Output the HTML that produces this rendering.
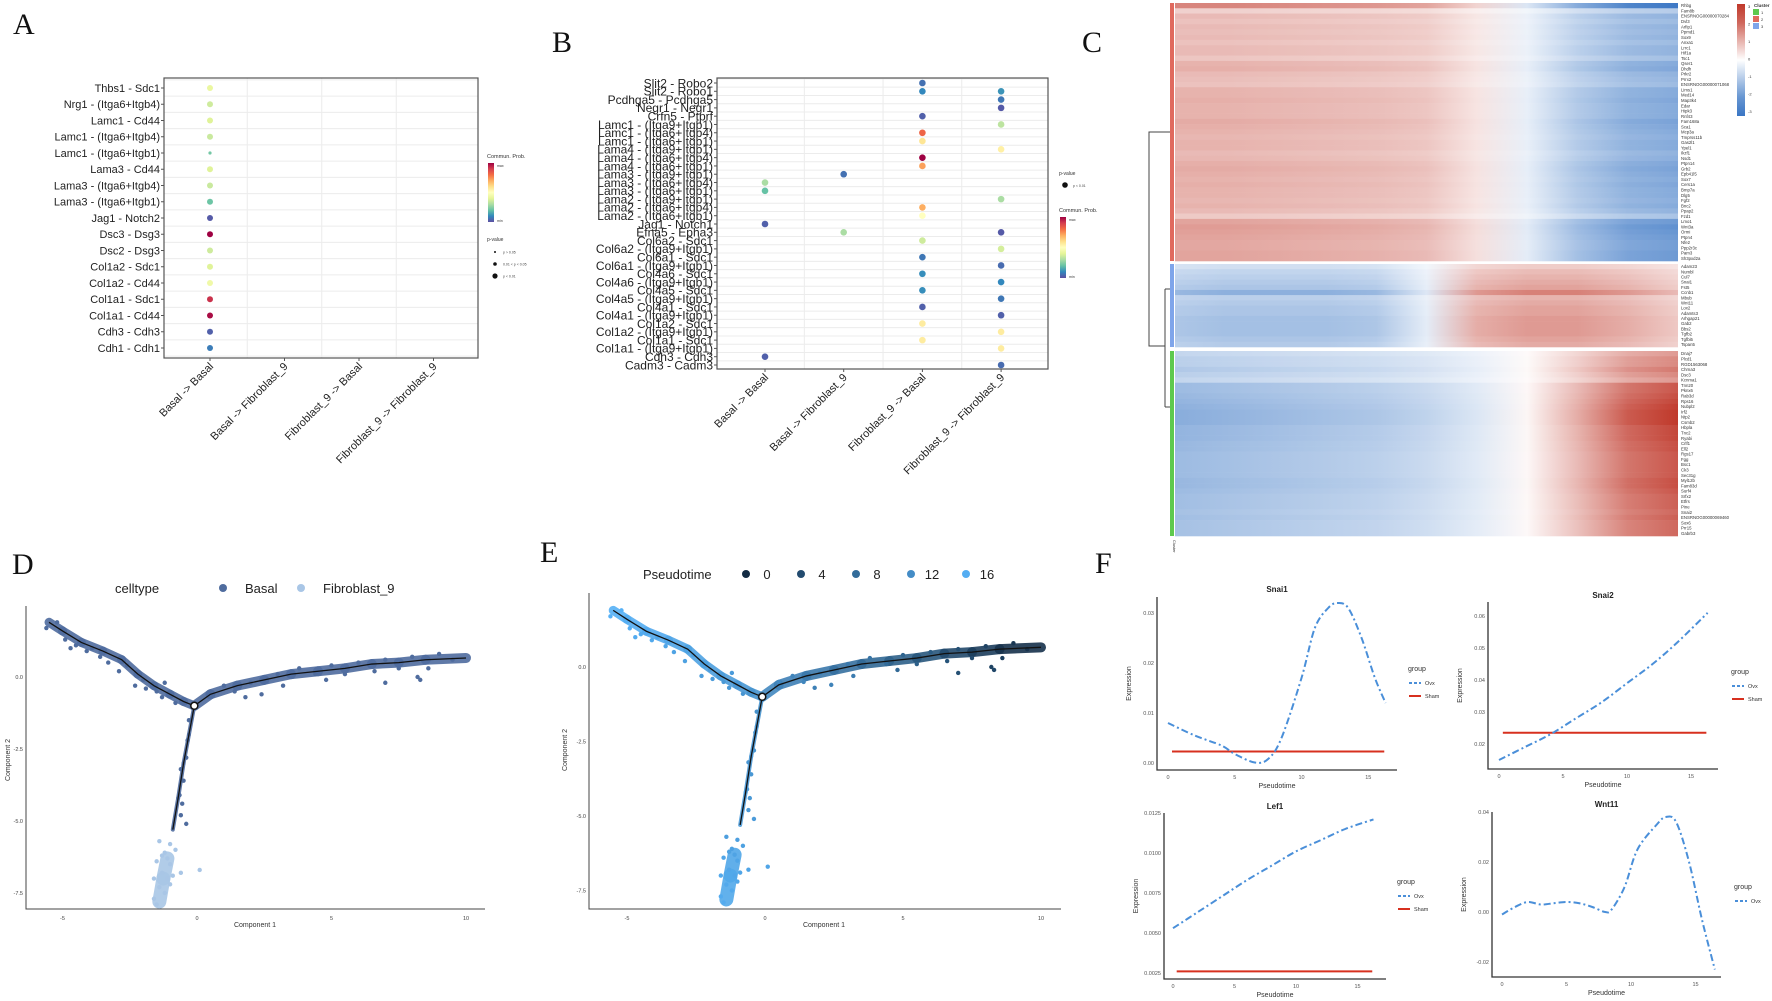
<!DOCTYPE html>
<html><head><meta charset="utf-8"><title>Figure</title>
<style>
html,body{margin:0;padding:0;background:#fff;}
svg{display:block;font-family:"Liberation Sans",sans-serif;}
.lbl{font-family:"Liberation Serif",serif;font-size:30px;fill:#111;}
</style></head>
<body>
<svg id="fig" width="1772" height="1001" viewBox="0 0 1772 1001" xmlns="http://www.w3.org/2000/svg">
<rect x="0" y="0" width="1772" height="1001" fill="#fff"/>
<text class="lbl" x="13" y="34">A</text>
<text class="lbl" x="552" y="52">B</text>
<text class="lbl" x="1082" y="52">C</text>
<text class="lbl" x="12" y="574">D</text>
<text class="lbl" x="540" y="562">E</text>
<text class="lbl" x="1095" y="573">F</text>
</svg>
<script>
const NS="http://www.w3.org/2000/svg";
const svg=document.getElementById('fig');
function el(tag,attrs,parent){const e=document.createElementNS(NS,tag);for(const k in attrs)e.setAttribute(k,attrs[k]);(parent||svg).appendChild(e);return e;}
function txt(s,attrs,parent){const t=el('text',attrs,parent);t.textContent=s;return t;}

/* ---------- Shared data: cell-cell communication ---------- */
const commCols=["Basal -> Basal","Basal -> Fibroblast_9","Fibroblast_9 -> Basal","Fibroblast_9 -> Fibroblast_9"];
const aPairs=["Thbs1  - Sdc1","Nrg1 - (Itga6+Itgb4)","Lamc1  - Cd44","Lamc1  - (Itga6+Itgb4)","Lamc1  - (Itga6+Itgb1)","Lama3  - Cd44","Lama3  - (Itga6+Itgb4)","Lama3  - (Itga6+Itgb1)","Jag1  - Notch2","Dsc3 - Dsg3","Dsc2 - Dsg3","Col1a2  - Sdc1","Col1a2  - Cd44","Col1a1  - Sdc1","Col1a1  - Cd44","Cdh3 - Cdh3","Cdh1  - Cdh1"];
const aCol=[0,0,0,0,0,0,0,0,0,0,0,0,0,0,0,0,0];
const aProb=[0.42,0.36,0.39,0.35,0.22,0.39,0.35,0.21,0.02,1.0,0.36,0.39,0.44,0.92,0.98,0.03,0.08];
const aSig=[2,2,2,2,1,2,2,2,2,2,2,2,2,2,2,2,2];

const bPairs=["Slit2 - Robo2","Slit2 - Robo1","Pcdhga5 - Pcdhga5","Negr1  - Negr1","Crfn5 - Ptprf","Lamc1  - (Itga9+Itgb1)","Lamc1  - (Itga6+Itgb4)","Lamc1  - (Itga6+Itgb1)","Lama4  - (Itga9+Itgb1)","Lama4  - (Itga6+Itgb4)","Lama4  - (Itga6+Itgb1)","Lama3  - (Itga9+Itgb1)","Lama3  - (Itga6+Itgb4)","Lama3  - (Itga6+Itgb1)","Lama2  - (Itga9+Itgb1)","Lama2  - (Itga6+Itgb4)","Lama2  - (Itga6+Itgb1)","Jag1  - Notch1","Efna5  - Epha3","Col6a2  - Sdc1","Col6a2  - (Itga9+Itgb1)","Col6a1  - Sdc1","Col6a1  - (Itga9+Itgb1)","Col4a6  - Sdc1","Col4a6  - (Itga9+Itgb1)","Col4a5  - Sdc1","Col4a5  - (Itga9+Itgb1)","Col4a1  - Sdc1","Col4a1  - (Itga9+Itgb1)","Col1a2  - Sdc1","Col1a2  - (Itga9+Itgb1)","Col1a1  - Sdc1","Col1a1  - (Itga9+Itgb1)","Cdh3 - Cdh3","Cadm3  - Cadm3"];
const bDotRow=[0,1,1,2,3,4,5,6,7,8,9,10,11,12,13,14,15,16,17,18,18,19,20,21,22,23,24,25,26,27,28,29,30,31,32,33,34];
const bDotCol=[2,2,3,3,3,2,3,2,2,3,2,2,1,0,0,3,2,2,0,1,3,2,3,2,3,2,3,2,3,2,3,2,3,2,3,0,3];
const bDotProb=[0.06,0.1,0.12,0.07,0.02,0.03,0.33,0.82,0.58,0.55,1.0,0.72,0.06,0.3,0.2,0.3,0.7,0.5,0.03,0.3,0.02,0.36,0.37,0.07,0.05,0.11,0.1,0.11,0.07,0.03,0.03,0.56,0.56,0.56,0.56,0.03,0.05];

const spectral=["#5e4fa2","#3288bd","#66c2a5","#abdda4","#e6f598","#ffffbf","#fee08b","#fdae61","#f46d43","#d53e4f","#9e0142"];
function hex2rgb(h){return [parseInt(h.substr(1,2),16),parseInt(h.substr(3,2),16),parseInt(h.substr(5,2),16)];}
function mix(a,b,t){const A=hex2rgb(a),B=hex2rgb(b);return 'rgb('+A.map((v,i)=>Math.round(v+(B[i]-v)*t)).join(',')+')';}
function specColor(v){v=Math.max(0,Math.min(1,v));const p=v*10,i=Math.min(9,Math.floor(p));return mix(spectral[i],spectral[i+1],p-i);}

function dotPlot(cfg){
  const g=el('g',{});
  
  
  const n=cfg.pairs.length;
  const rowY=i=>cfg.y0+(cfg.y1-cfg.y0)*i/(n-1);
  const colX=j=>cfg.x0+cfg.colStep*j;
  const step=(cfg.y1-cfg.y0)/(n-1);
  for(let i=0;i<=n;i++){const y=cfg.y0-step/2+i*step;
    const gl=el('line',{x1:cfg.bx0,x2:cfg.bx1,y1:y,y2:y,stroke:'#ececec','stroke-width':1},g);
    
    }
  for(let j=0;j<3;j++){const x=colX(j)+cfg.colStep/2;
    const gl=el('line',{x1:x,x2:x,y1:cfg.by0,y2:cfg.by1,stroke:'#ececec','stroke-width':1},g);
    
    }
  const box=el('rect',{x:cfg.bx0,y:cfg.by0,width:cfg.bx1-cfg.bx0,height:cfg.by1-cfg.by0,fill:'none',stroke:'#555','stroke-width':1.2},g);
  
  
  cfg.pairs.forEach((p,i)=>{
    const t=txt(p,{x:cfg.bx0-4,y:rowY(i)+cfg.fs*0.36,'text-anchor':'end','font-size':cfg.fs,fill:'#222'},g);
    
    
    const tk=el('line',{x1:cfg.bx0-3,x2:cfg.bx0,y1:rowY(i),y2:rowY(i),stroke:'#555'},g);
    
    
  });
  commCols.forEach((c,j)=>{
    const x=colX(j),y=cfg.by1+9;
    const t=txt(c,{x:x+4,y:y,'text-anchor':'end','font-size':cfg.xfs,fill:'#222',transform:'rotate(-45 '+(x+4)+' '+y+')'},g);
    
    
    const tk=el('line',{x1:x,x2:x,y1:cfg.by1,y2:cfg.by1+3,stroke:'#555'},g);
    
    
  });
  cfg.dotRow.forEach((r,k)=>{
    const c=el('circle',{cx:colX(cfg.dotCol[k]),cy:rowY(r),r:cfg.sizes?(cfg.sizes[k]===1?1.6:3):3.3,fill:specColor(cfg.prob[k])},g);
    
    
  });
  return g;
}
dotPlot({name:'panel-a-dotplot',pairs:aPairs,dotRow:aPairs.map((_,i)=>i),dotCol:aCol,prob:aProb,sizes:aSig,
  x0:210,colStep:74.5,y0:88,y1:348,bx0:164,bx1:478,by0:78,by1:358,fs:11,xfs:11});
dotPlot({name:'panel-b-dotplot',pairs:bPairs,dotRow:bDotRow,dotCol:bDotCol,prob:bDotProb,
  x0:765,colStep:78.7,y0:83,y1:365,bx0:717,bx1:1048,by0:78,by1:369,fs:12,xfs:11});

/* legends A & B */
function colorbar(x,y,h,name){
  const g=el('g',{});
  
  
  const id='cb'+name;
  const lg=el('linearGradient',{id:id,x1:0,y1:1,x2:0,y2:0},g);
  spectral.forEach((c,i)=>el('stop',{offset:i/10,'stop-color':c},lg));
  el('rect',{x:x,y:y,width:6,height:h,fill:'url(#'+id+')'},g);
  txt('Commun. Prob.',{x:x-1,y:y-5,'font-size':5.5,fill:'#333'},g);
  txt('max',{x:x+9,y:y+4,'font-size':3.5,fill:'#333'},g);
  txt('min',{x:x+9,y:y+h,'font-size':3.5,fill:'#333'},g);
}
colorbar(488,163,59,'legend-commun-prob-a');
colorbar(1060,217,61,'legend-commun-prob-b');
const pvA=el('g',{});


txt('p-value',{x:487,y:241,'font-size':5,fill:'#333'},pvA);
[[252,1,'p > 0.05'],[264,1.8,'0.01 < p < 0.05'],[276,2.6,'p < 0.01']].forEach(d=>{el('circle',{cx:495,cy:d[0],r:d[1],fill:'#111'},pvA);txt(d[2],{x:503,y:d[0]+1.5,'font-size':3.5,fill:'#444'},pvA);});
const pvB=el('g',{});


txt('p-value',{x:1059,y:175,'font-size':5,fill:'#333'},pvB);
el('circle',{cx:1065,cy:185,r:2.8,fill:'#111'},pvB);
txt('p < 0.01',{x:1073,y:187,'font-size':3.5,fill:'#444'},pvB);

/* ---------- Panel C heatmap ---------- */
const redGenes=["Rhbg","Fam8b","ENSRNOG00000070284","Dvl3","Arfip1","Ppmd1","Sox9","Anxa1","Lrrc1","Hif1a","Tsc1","Qser1","Dhdh","Prkr2","Prrx2","ENSRNOG00000071068","Lims1","Med14","Map3k4","Edar","Hipk3","Rnf43","Fam168a","Sca1","Mcp3a","Tmprss11b","Gas2l1","Ypel1","Ikzf1","Nsd1","Ptpn14","Grb2","Epb41l5","Sox7","Cers1a","Bmp7a","Dlg5","Fgf2","Bnc2","Ppap2","Fzd1","Lmo1","Wnt3a","Ormi","Ptpn4","Nfe2","Ppp2r3c","Pam3","Sh3pxd2a"];
const blueGenes=["Adam23","Numbl","Cul7","Snai1","Fst5","Ccnb1","Mbub","Wnt11","Lox2","Adamts3","Arhgap21","Gab2","Bbs2","Tgfb2","Tgfbi5","Tspan5"];
const greenGenes=["Dnaj7","Plcd1","RGD1563068","Chrna3","Dsc3","Kcnma1","Tnn20","Pknx6","Rab3d","Rps16","Nubpl2","Irf2","Ntp2","Csmb2","Hbpla","Tnc2","Ryabi","Crlf1","Ell2","Rgs17","Fgg","Bsc1","Ck3","Sec31g","Myl12b","Fam83d","Surf4","Srfx2","Etfrs","Pine","Snai2","ENSRNOG00000069460","Sox6","Prr15","Gabrb3"];
const redProfile=[1.0,1.0,0.95,0.9,0.85,0.75,0.35,-0.3,-1.0,-1.45,-1.6];
const blueProfile=[-0.9,-1.0,-1.0,-1.0,-0.9,-0.3,0.9,1.1,1.1,0.9,0.6];
const greenProfile=[-1.3,-1.2,-1.1,-1.0,-0.9,-0.7,-0.4,0.1,0.9,1.8,2.2];
const redAmp=[1.6,0.6,0.9,0.8,0.9,0.85,0.9,0.8,0.9,0.9,0.75,1.0,1.05,0.9,0.85,0.8,1.0,1.0,1.05,1.0,1.0,1.0,1.1,1.05,1.0,0.95,1.0,1.0,0.9,0.95,1.05,1.1,1.05,1.0,1.05,1.0,1.0,0.95,1.0,0.9,0.7,1.2,1.3,1.25,1.2,1.15,1.15,1.2,1.2];
const blueAmp=[0.6,0.8,0.9,1.0,1.1,1.5,0.9,1.0,1.1,1.1,1.2,1.2,1.2,1.2,1.1,1.0];
const greenAmp=[0.6,0.7,0.7,0.8,0.7,0.6,1.0,1.0,1.05,1.1,1.15,1.2,1.2,1.2,1.1,1.1,1.1,1.05,1.05,1.0,1.0,1.0,1.0,1.0,1.05,1.05,1.0,0.95,0.95,0.95,0.9,0.95,0.9,0.9,0.9];
const hmX0=1175,hmX1=1678;
function heatColor(v){v=Math.max(-2.6,Math.min(2.6,v));return v<0?mix('#ffffff','#3a76c4',-v/2.6):mix('#ffffff','#c0392b',v/2.6);}
const hm=el('g',{});


const defs=el('defs',{},hm);
let gid=0;
function drawCluster(genes,prof,amp,y0,y1,barColor,name){
  const cg=el('g',{},hm);
  
  
  const h=(y1-y0)/genes.length;
  genes.forEach((gname,i)=>{
    const id='hg'+(gid++);
    const lg=el('linearGradient',{id:id,x1:0,x2:1,y1:0,y2:0},defs);
    prof.forEach((v,k)=>el('stop',{offset:k/(prof.length-1),'stop-color':heatColor(v*amp[i])},lg));
    const r=el('rect',{x:hmX0,y:y0+i*h,width:hmX1-hmX0,height:h+0.3,fill:'url(#'+id+')'},cg);
    
    
    const t=txt(gname,{x:hmX1+3,y:y0+i*h+h*0.8,'font-size':4.3,fill:'#333'},cg);
    
    
  });
  const b=el('rect',{x:1170,y:y0,width:4,height:y1-y0,fill:barColor},cg);
  
  
}
drawCluster(redGenes,redProfile,redAmp,3,261,'#e06a5e','cluster-2');
drawCluster(blueGenes,blueProfile,blueAmp,264,347,'#7fa5ea','cluster-3');
drawCluster(greenGenes,greenProfile,greenAmp,351,536,'#5ec94e','cluster-1');
const dend=el('path',{d:'M1170 132 H1149 V346 H1165 M1165 289 V407 M1165 289 H1170 M1165 407 H1170',stroke:'#444',fill:'none','stroke-width':1},hm);


txt('Cluster',{x:1173,y:540,'font-size':4,fill:'#333',transform:'rotate(90 1173 540)'},hm);
const hl=el('g',{},hm);


const hlg=el('linearGradient',{id:'hmleg',x1:0,y1:0,x2:0,y2:1},defs);
[3,2,1,0,-1,-2,-3].forEach((v,k)=>el('stop',{offset:k/6,'stop-color':heatColor(v)},hlg));
el('rect',{x:1737,y:4,width:8,height:112,fill:'url(#hmleg)'},hl);
[3,2,1,0,-1,-2,-3].forEach((v,k)=>txt(String(v),{x:1748,y:8+k*17.5,'font-size':4,fill:'#333'},hl));
txt('Cluster',{x:1754,y:7,'font-size':4.5,fill:'#333','font-weight':'bold'},hl);
[['#5ec94e','1'],['#e06a5e','2'],['#7fa5ea','3']].forEach((c,k)=>{el('rect',{x:1753,y:9+k*7,width:6,height:6,fill:c[0]},hl);txt(c[1],{x:1761,y:14+k*7,'font-size':4,fill:'#333'},hl);});

/* ---------- Panels D & E: trajectories ---------- */
const bbLeftX=[-5.5,-5,-4.3,-3.5,-2.8,-2.2,-1.6,-1,-0.5,-0.1];
const bbLeftY=[1.9,1.6,1.2,0.9,0.6,0.1,-0.3,-0.6,-0.85,-1.0];
const bbLeftPT=[16.5,16.2,15.8,15.3,14.8,14.4,14,13.5,13,12.5];
const bbRightX=[-0.1,0.5,1.5,2.5,3.5,4.5,5.5,6.5,7.5,8.5,10];
const bbRightY=[-1.0,-0.6,-0.3,-0.1,0.1,0.2,0.3,0.45,0.5,0.6,0.66];
const bbRightPT=[12,11,10,9,8,7,6,4.5,3,1.5,0];
const bbDownX=[-0.1,-0.3,-0.5,-0.7,-0.9];
const bbDownY=[-1.0,-2.0,-3.0,-4.2,-5.3];
const bbDownPT=[12.5,12.8,13.2,13.5,14];
const bbFibX=[-1.1,-1.25,-1.4];
const bbFibY=[-6.3,-7.0,-7.8];
const bbFibPT=[15,15.2,15.5];
const cellLeftX=[-5.6,-5.2,-4.9,-4.5,-4.1,-3.6,-3.3,-2.9,-2.6,-2.3,-1.9,-1.5,-1.2,-3.9,-4.7,-2.0,-1.3,-0.8];
const cellLeftY=[1.7,1.9,1.3,1.1,0.9,0.7,0.5,0.2,0.4,-0.3,-0.4,-0.5,-0.2,1.0,1.0,-0.1,-0.7,-0.9];
const cellLeftPT=[16.5,16.5,16,15.8,15.5,15,14.8,14.5,14.6,14,13.8,13.5,13.8,15.2,15.8,14.2,13.4,13];
const cellRightX=[0.5,1.0,1.4,2.0,2.4,3.0,3.2,3.8,4.4,5,5.5,6,6.6,7,7.5,8,8.3,8.6,9,9.5,8.2,7.0,4.8,1.8];
const cellRightY=[-0.5,-0.3,-0.5,-0.2,-0.6,0.1,-0.3,0.3,0.1,0.4,0.1,0.5,0.2,0.6,0.3,0.7,-0.1,0.3,0.8,0.6,0.0,-0.2,-0.1,-0.7];
const cellRightPT=[11.5,11,11.2,10.5,10.8,9.5,10,9,8,7,6.5,6,5,4.5,4,3,3.5,2.5,1.5,1,2.8,4.5,7.5,10.5];
const cellDownX=[-0.3,-0.35,-0.4,-0.6,-0.5,-0.65,-0.55,-0.4,-0.6];
const cellDownY=[-1.5,-2.2,-2.8,-3.2,-3.6,-4.1,-4.4,-5.1,-4.8];
const cellDownPT=[12.5,12.8,13,13.2,13.3,13.5,13.5,13.8,13.6];
const cellFibX=[-1.2,-1.5,-1.0,-1.3,-1.6,-1.1,-1.4,-1.2,-1.6,-1.0,-0.9,-0.6,-1.5,0.1,-1.1,-1.3,-0.8,-1.4,-1.0];
const cellFibY=[-6.1,-6.4,-6.5,-6.8,-7.0,-7.0,-7.3,-7.5,-7.7,-7.2,-6.9,-6.8,-7.9,-6.7,-6.3,-6.2,-6.0,-5.7,-5.8];
const cellFibPT=[14.5,15,15,15.2,15.5,15.2,15.5,15.5,15.8,15.3,15,15,15.8,15,14.8,14.6,14.5,14.2,14.3];
const ptLegend=[0,4,8,12,16];
const xTicks=[-5,0,5,10], yTicks=[0,-2.5,-5,-7.5], yTickLabels=["0.0","-2.5","-5.0","-7.5"];

function ptColor(p){return mix('#132b43','#56b1f7',Math.max(0,Math.min(16.5,p))/16.5);}

function trajPlot(cfg){
  const g=el('g',{});
  
  
  const sx=v=>cfg.x0px+v*cfg.xu, sy=v=>cfg.y0px-v*cfg.yu;
  const ax=el('path',{d:'M'+cfg.axX+' '+cfg.axTop+' V'+cfg.axY+' H'+cfg.axRight,stroke:'#444',fill:'none','stroke-width':1},g);
  
  
  xTicks.forEach(t=>{const tt=txt(String(t),{x:sx(t),y:cfg.axY+11,'font-size':5.5,'text-anchor':'middle',fill:'#444'},g);
    
    });
  yTicks.forEach((t,i)=>{const tt=txt(yTickLabels[i],{x:cfg.axX-3,y:sy(t)+2,'font-size':5.5,'text-anchor':'end',fill:'#444'},g);
    
    });
  const xt=txt('Component 1',{x:cfg.xTitleX,y:cfg.axY+18,'font-size':7,'text-anchor':'middle',fill:'#333'},g);
  
  
  const yt=txt('Component 2',{x:cfg.yTitleX,y:cfg.yTitleY,'font-size':7,'text-anchor':'middle',fill:'#333',transform:'rotate(-90 '+cfg.yTitleX+' '+cfg.yTitleY+')'},g);
  
  
  const bands=[[bbLeftX,bbLeftY,bbLeftPT,9,'basal'],[bbRightX,bbRightY,bbRightPT,10,'basal'],[bbDownX,bbDownY,bbDownPT,4,'basal'],[bbFibX,bbFibY,bbFibPT,14,'fib']];
  bands.forEach(b=>{for(let i=0;i<b[0].length-1;i++){
    const col=cfg.mode==='pt'?ptColor((b[2][i]+b[2][i+1])/2):(b[4]==='fib'?'#a9c6e6':'#4f6c9e');
    const s=el('line',{x1:sx(b[0][i]),y1:sy(b[1][i]),x2:sx(b[0][i+1]),y2:sy(b[1][i+1]),stroke:col,'stroke-width':b[3],'stroke-linecap':'round','stroke-opacity':0.9},g);
    
    }});
  const cells=[[cellLeftX,cellLeftY,cellLeftPT,'basal'],[cellRightX,cellRightY,cellRightPT,'basal'],[cellDownX,cellDownY,cellDownPT,'basal'],[cellFibX,cellFibY,cellFibPT,'fib']];
  cells.forEach(c=>c[0].forEach((x,i)=>{
    const col=cfg.mode==='pt'?ptColor(c[2][i]):(c[3]==='fib'?'#a9c6e6':'#4f6c9e');
    const p=el('circle',{cx:sx(x),cy:sy(c[1][i]),r:2.2,fill:col},g);
    
    }));
  [[bbLeftX,bbLeftY],[bbRightX,bbRightY],[bbDownX,bbDownY]].forEach(b=>{
    const d=b[0].map((x,i)=>(i?'L':'M')+sx(x)+' '+sy(b[1][i])).join(' ');
    const l=el('path',{d:d,stroke:'#111',fill:'none','stroke-width':1.3},g);
    
    });
  const bp=el('circle',{cx:sx(-0.1),cy:sy(-1.0),r:3.5,fill:'#fff',stroke:'#111','stroke-width':1.5},g);
  
  
  return g;
}
trajPlot({name:'panel-d-trajectory',mode:'type',x0px:197,xu:26.9,y0px:677,yu:28.8,axX:26,axTop:606,axY:909,axRight:485,xTitleX:255,yTitleX:10,yTitleY:760});
trajPlot({name:'panel-e-trajectory',mode:'pt',x0px:765,xu:27.6,y0px:667,yu:29.8,axX:589,axTop:593,axY:909,axRight:1061,xTitleX:824,yTitleX:567,yTitleY:750});
/* legends D/E */
const dl=el('g',{});


txt('celltype',{x:115,y:593,'font-size':13,fill:'#222'},dl);
el('circle',{cx:223,cy:588,r:4,fill:'#4f6c9e'},dl);
txt('Basal',{x:245,y:593,'font-size':13,fill:'#222'},dl);
el('circle',{cx:301,cy:588,r:4,fill:'#a9c6e6'},dl);
txt('Fibroblast_9',{x:323,y:593,'font-size':13,fill:'#222'},dl);
const el2=el('g',{});


txt('Pseudotime',{x:643,y:579,'font-size':13,fill:'#222'},el2);
ptLegend.forEach((p,i)=>{const cx=746+i*55;
  el('circle',{cx:cx,cy:574,r:4,fill:ptColor(p)},el2);
  txt(String(p),{x:cx+21,y:579,'font-size':13,'text-anchor':'middle',fill:'#222'},el2);});

/* ---------- Panel F: expression curves ---------- */
const fPT=[0,2,4,5,6.5,7.5,8.5,10,11,12,12.7,13.5,14.5,15.5,16.3];
const snai1Ovx=[0.008,0.0055,0.0035,0.0018,0.0001,0.0008,0.005,0.017,0.027,0.031,0.032,0.031,0.025,0.017,0.012];
const snai1Sham=[0.0023,0.0023];
const snai2PT=[0,2,4,6,8,10,12,14,16.3];
const snai2Ovx=[0.015,0.019,0.023,0.028,0.033,0.039,0.045,0.052,0.061];
const snai2Sham=[0.0235,0.0235];
const lef1PT=[0,2,4,6,8,10,12,14,16.3];
const lef1Ovx=[0.0053,0.0063,0.0073,0.0083,0.0092,0.0101,0.0108,0.0115,0.0121];
const lef1Sham=[0.0026,0.0026];
const wnt11PT=[0,1,2,3,4,5,6,7,8,8.5,9.5,10.5,12,12.7,13.5,14.5,15.5,16.5];
const wnt11Ovx=[-0.001,0.002,0.004,0.003,0.0035,0.004,0.0035,0.002,0.0,0.001,0.01,0.025,0.035,0.038,0.036,0.02,-0.003,-0.023];
const shamPT=[0.3,16.2];

function smoothPath(pts){let d='M'+pts[0][0]+' '+pts[0][1];
  for(let i=0;i<pts.length-1;i++){const p0=pts[i-1]||pts[i],p1=pts[i],p2=pts[i+1],p3=pts[i+2]||p2;
    d+=' C'+(p1[0]+(p2[0]-p0[0])/6)+' '+(p1[1]+(p2[1]-p0[1])/6)+' '+(p2[0]-(p3[0]-p1[0])/6)+' '+(p2[1]-(p3[1]-p1[1])/6)+' '+p2[0]+' '+p2[1];}
  return d;}

function exprPlot(c){
  const g=el('g',{});
  
  
  const sx=v=>c.x0+v*c.xu, sy=v=>c.yRef-(v-c.vRef)*c.yu;
  const ax=el('path',{d:'M'+c.axX+' '+c.axTop+' V'+c.axY+' H'+c.axRight,stroke:'#333',fill:'none','stroke-width':1.3},g);
  
  
  const t=txt(c.title,{x:(c.axX+c.axRight)/2,y:c.titleY,'font-size':8,'font-weight':'bold','text-anchor':'middle',fill:'#222'},g);
  
  
  [0,5,10,15].forEach(v=>{const tt=txt(String(v),{x:sx(v),y:c.axY+9,'font-size':5.5,'text-anchor':'middle',fill:'#555'},g);
    
    });
  c.yTicks.forEach((v,i)=>{const tt=txt(c.yLabels[i],{x:c.axX-3,y:sy(v)+2,'font-size':5.5,'text-anchor':'end',fill:'#555'},g);
    
    });
  const xt=txt('Pseudotime',{x:(c.axX+c.axRight)/2,y:c.axY+18,'font-size':7,'text-anchor':'middle',fill:'#333'},g);
  
  
  const yx=c.axX-26,yy=(c.axTop+c.axY)/2;
  const yt=txt('Expression',{x:yx,y:yy,'font-size':7,'text-anchor':'middle',fill:'#333',transform:'rotate(-90 '+yx+' '+yy+')'},g);
  
  
  if(c.sham){const s=el('line',{x1:sx(shamPT[0]),x2:sx(shamPT[1]),y1:sy(c.sham[0]),y2:sy(c.sham[1]),stroke:'#d7301f','stroke-width':2},g);
    
    }
  const o=el('path',{d:smoothPath(c.pt.map((p,i)=>[sx(p),sy(c.ovx[i])])),stroke:'#4a8fd9',fill:'none','stroke-width':2,'stroke-dasharray':'7 3 2 3'},g);
  
  
  const lg=el('g',{},g);
  
  
  txt('group',{x:c.legX,y:c.legY,'font-size':7,fill:'#333'},lg);
  el('line',{x1:c.legX+1,x2:c.legX+13,y1:c.legY+12,y2:c.legY+12,stroke:'#4a8fd9','stroke-width':2,'stroke-dasharray':'3 2'},lg);
  txt('Ovx',{x:c.legX+17,y:c.legY+14,'font-size':5.5,fill:'#333'},lg);
  if(c.sham){el('line',{x1:c.legX+1,x2:c.legX+13,y1:c.legY+25,y2:c.legY+25,stroke:'#d7301f','stroke-width':2},lg);
    txt('Sham',{x:c.legX+17,y:c.legY+27,'font-size':5.5,fill:'#333'},lg);}
}
exprPlot({name:'snai1-plot',title:'Snai1',pt:fPT,ovx:snai1Ovx,sham:snai1Sham,x0:1168,xu:13.35,yRef:763,vRef:0,yu:5000,
  axX:1157,axTop:597,axY:770,axRight:1397,titleY:592,yTicks:[0,0.01,0.02,0.03],yLabels:["0.00","0.01","0.02","0.03"],legX:1408,legY:671});
exprPlot({name:'snai2-plot',title:'Snai2',pt:snai2PT,ovx:snai2Ovx,sham:snai2Sham,x0:1499,xu:12.8,yRef:744,vRef:0.02,yu:3200,
  axX:1488,axTop:602,axY:769,axRight:1718,titleY:598,yTicks:[0.02,0.03,0.04,0.05,0.06],yLabels:["0.02","0.03","0.04","0.05","0.06"],legX:1731,legY:674});
exprPlot({name:'lef1-plot',title:'Lef1',pt:lef1PT,ovx:lef1Ovx,sham:lef1Sham,x0:1173,xu:12.3,yRef:973,vRef:0.0025,yu:16000,
  axX:1164,axTop:813,axY:979,axRight:1386,titleY:809,yTicks:[0.0025,0.005,0.0075,0.01,0.0125],yLabels:["0.0025","0.0050","0.0075","0.0100","0.0125"],legX:1397,legY:884});
exprPlot({name:'wnt11-plot',title:'Wnt11',pt:wnt11PT,ovx:wnt11Ovx,sham:null,x0:1502,xu:12.9,yRef:912,vRef:0,yu:2500,
  axX:1492,axTop:812,axY:977,axRight:1721,titleY:807,yTicks:[0.04,0.02,0,-0.02],yLabels:["0.04","0.02","0.00","-0.02"],legX:1734,legY:889});
</script>
</body></html>
